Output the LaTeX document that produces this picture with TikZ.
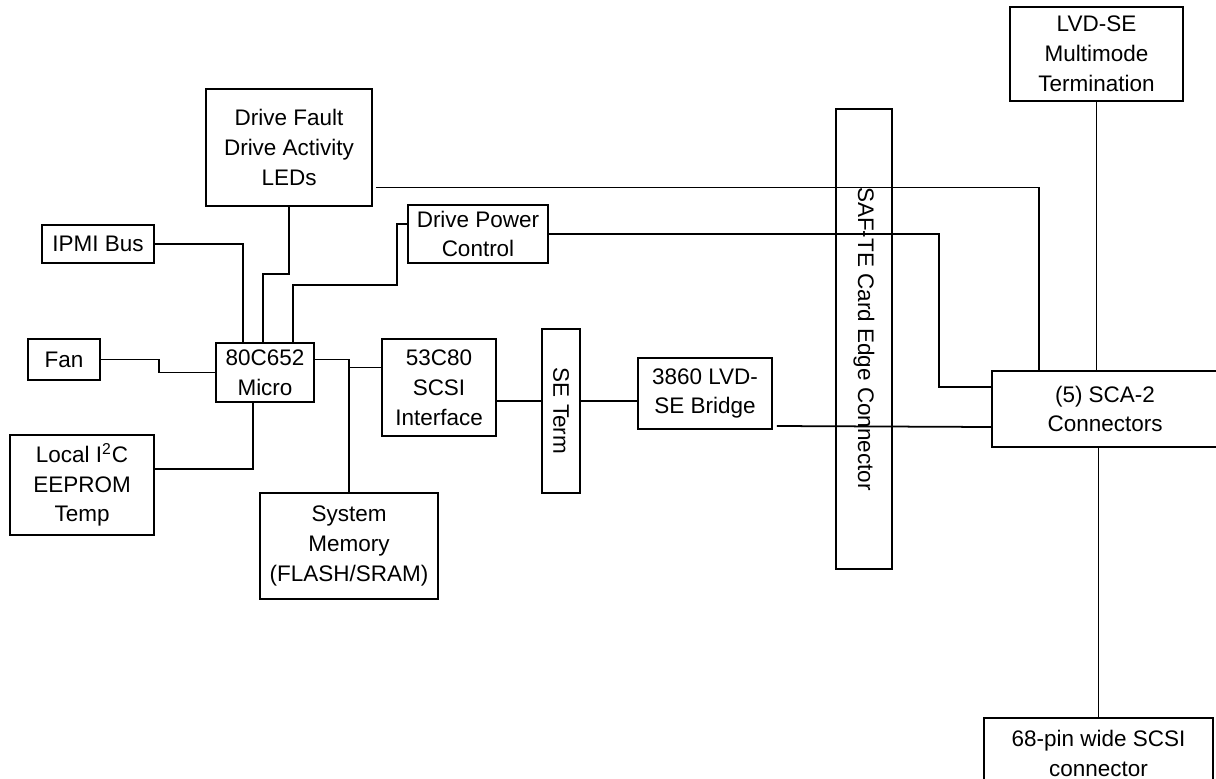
\documentclass[tikz,border=0pt]{standalone}
\usepackage{fontspec}
\setmainfont{Liberation Sans}
\usetikzlibrary{calc,positioning}

\tikzset{
  blk/.style={draw,line width=1pt,align=center,inner sep=0pt,font=\fontsize{12.8}{17}\selectfont},
  sz/.style 2 args={minimum width=#1*0.02cm,minimum height=#2*0.02cm},
  wire/.style={line width=1pt}
}

\begin{document}
\begin{tikzpicture}[x=0.02cm,y=-0.02cm]
  \useasboundingbox (0,0) rectangle (1216,778);
  \clip (0,0) rectangle (1216,778);
  % blocks
  \node[blk,sz={166}{117}] (fault) at (289,147.5) {Drive Fault\\Drive Activity\\LEDs};
  \node[blk,sz={112}{38}] (ipmi) at (98,244) {IPMI Bus};
  \node[blk,sz={140}{58}] (power) at (478,234) {Drive Power\\Control};
  \node[blk,sz={72}{41}] (fan) at (64,359.5) {Fan};
  \node[blk,sz={98}{59}] (micro) at (265,372.5) {80C652\\Micro};
  \node[blk,sz={144}{100}] (i2c) at (82,485) {Local I\textsuperscript{2}C\\EEPROM\\Temp};
  \node[blk,sz={178}{106}] (mem) at (349,546) {System\\Memory\\(FLASH/SRAM)};
  \node[blk,sz={114}{97}] (scsi) at (439,387.5) {53C80\\SCSI\\Interface};
  \node[blk,sz={164}{38},rotate=-90] (seterm) at (561,411) {SE Term};
  \node[blk,sz={134}{71}] (bridge) at (705,393.5) {3860 LVD-\\SE Bridge};
  \node[blk,sz={460}{56},rotate=-90] (saf) at (864,339) {SAF-TE Card Edge Connector};
  \node[blk,sz={173}{94}] (lvd) at (1096.5,54) {LVD-SE\\Multimode\\Termination};
  \node[blk,sz={226}{76}] (sca) at (1105,409) {(5) SCA-2\\Connectors};
  \node[blk,sz={229}{71}] (pin) at (1098.5,753.5) {68-pin wide SCSI\\connector};
  % wiring round the micro
  \draw[wire] (ipmi.east) -| ([shift={(28,0)}]micro.north west);
  \draw[wire] (fault.south) -- ++(0,67) -| ([shift={(48,0)}]micro.north west);
  \draw[wire] ([shift={(78,0)}]micro.north west) -- ++(0,-57) -| ([shift={(-10,-10)}]power.west) -- ([shift={(0,-10)}]power.west);
  \draw[wire] (fan.east) -- ++(58,0) |- (micro.west);
  \draw[wire] ([shift={(0,-16)}]i2c.east) -| ([shift={(38,0)}]micro.south west);
  \draw[wire] ([shift={(0,-13)}]micro.east) -| (mem.north);
  \draw[wire] ([shift={(0,-20)}]scsi.west) -- ++(-32,0);
  % SCSI path
  \draw[wire] ([shift={(0,13.5)}]scsi.east) -- ([shift={(0,-10)}]seterm.south);
  \draw[wire] ([shift={(0,-10)}]seterm.north) -- ([shift={(0,7.5)}]bridge.west);
  \draw[wire] ([shift={(4,32.5)}]bridge.east) -- ([shift={(0,18)}]sca.west);
  % card edge side
  \draw[wire] ([shift={(3,40)}]fault.east) -| ([shift={(48,0)}]sca.north west);
  \draw[wire] (power.east) -- ++(390,0) |- ([shift={(0,-22)}]sca.west);
  \draw[wire] (lvd.south) -- (lvd.south |- sca.north);
  \draw[wire] (pin.north) -- (pin.north |- sca.south);
\end{tikzpicture}
\end{document}
